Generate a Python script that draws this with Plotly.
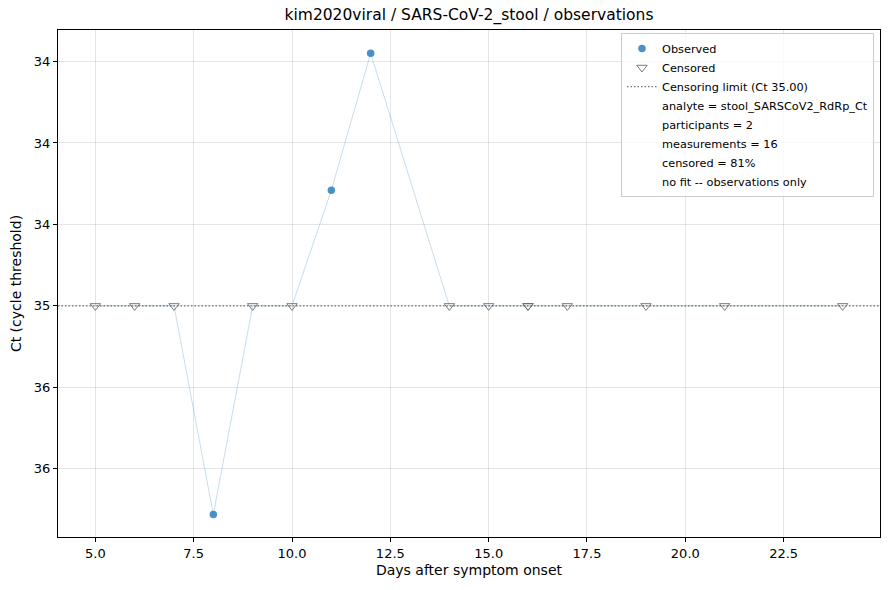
import plotly.graph_objects as go

# observations for kim2020viral / SARS-CoV-2_stool
days = [5, 6, 7, 8, 9, 10, 11, 12, 14, 15, 16, 16, 17, 19, 21, 24]
ct = [35.0, 35.0, 35.0, 36.28, 35.0, 35.0, 34.29, 33.45, 35.0, 35.0, 35.0, 35.0, 35.0, 35.0, 35.0, 35.0]
censored = [1, 1, 1, 0, 1, 1, 0, 0, 1, 1, 1, 1, 1, 1, 1, 1]
participant = ["P1"] * 11 + ["P2"] + ["P1"] * 4

censor_limit = 35.0
y_tickvals = [33.5, 34.0, 34.5, 35.0, 35.5, 36.0]
y_ticktext = ["34", "34", "34", "35", "36", "36"]
x_tickvals = [5.0, 7.5, 10.0, 12.5, 15.0, 17.5, 20.0, 22.5]
x_ticktext = ["5.0", "7.5", "10.0", "12.5", "15.0", "17.5", "20.0", "22.5"]

info_lines = [
    "analyte = stool_SARSCoV2_RdRp_Ct",
    "participants = 2",
    "measurements = 16",
    "censored = 81%",
    "no fit -- observations only",
]

FONT = "DejaVu Sans"
fig = go.Figure()

# per-participant trajectories
for p in sorted(set(participant)):
    px_ = [d for d, q in zip(days, participant) if q == p]
    py_ = [c for c, q in zip(ct, participant) if q == p]
    fig.add_trace(go.Scatter(x=px_, y=py_, mode="lines",
                             line=dict(color="rgba(31,119,180,0.25)", width=1),
                             showlegend=False, hoverinfo="skip"))

# censoring limit
fig.add_trace(go.Scatter(x=[4.05, 24.95], y=[censor_limit, censor_limit], mode="lines",
                         line=dict(color="rgba(90,90,90,0.85)", width=1.2, dash="1.5px,2px"),
                         name="Censoring limit (Ct %.2f)" % censor_limit, legendrank=3))

obs_x = [d for d, c in zip(days, censored) if not c]
obs_y = [v for v, c in zip(ct, censored) if not c]
cen_x = [d for d, c in zip(days, censored) if c]
cen_y = [v for v, c in zip(ct, censored) if c]

fig.add_trace(go.Scatter(x=obs_x, y=obs_y, mode="markers", name="Observed",
                         marker=dict(color="rgba(31,119,180,0.8)", size=7.5,
                                     line=dict(width=0)), legendrank=1))
fig.add_trace(go.Scatter(x=cen_x, y=cen_y, mode="markers", name="Censored",
                         marker=dict(symbol="triangle-down-open", color="rgba(100,100,100,0.85)",
                                     size=9, line=dict(width=1)), legendrank=2))

for i, t in enumerate(info_lines):
    fig.add_trace(go.Scatter(x=[None], y=[None], mode="lines", line=dict(width=0, color="white"),
                             name=t, legendrank=4 + i))

fig.update_layout(
    width=890, height=590,
    margin=dict(l=58, r=10, t=30, b=53, autoexpand=False),
    paper_bgcolor="white", plot_bgcolor="white",
    font=dict(family=FONT, size=13, color="black"),
    title=dict(text="kim2020viral / SARS-CoV-2_stool / observations", x=0.5, xref="paper",
               xanchor="center", y=1 - 15 / 590, yanchor="middle", yref="container",
               font=dict(size=15.5)),
    legend=dict(x=0.9927, y=0.994, xanchor="right", yanchor="top",
                bgcolor="rgba(255,255,255,0.8)", bordercolor="#cccccc", borderwidth=1,
                font=dict(size=11.3), tracegroupgap=0, itemwidth=30),
    showlegend=True,
)
fig.update_xaxes(range=[4.05, 24.95], tickvals=x_tickvals, ticktext=x_ticktext,
                 showline=True, linecolor="black", linewidth=1, mirror=True,
                 ticks="outside", ticklen=4, tickcolor="black", tickfont=dict(size=13),
                 showgrid=True, gridcolor="rgba(0,0,0,0.1)", zeroline=False, automargin=False,
                 title=dict(text="Days after symptom onset", standoff=5, font=dict(size=14)))
fig.update_yaxes(range=[36.418, 33.307], tickvals=y_tickvals, ticktext=y_ticktext,
                 showline=True, linecolor="black", linewidth=1, mirror=True,
                 ticks="outside", ticklen=4, tickcolor="black", tickfont=dict(size=13),
                 showgrid=True, gridcolor="rgba(0,0,0,0.1)", zeroline=False, automargin=False,
                 title=dict(text="Ct (cycle threshold)", standoff=8, font=dict(size=14)))

# drop the default page margin so the figure sits at the window origin
fig.write_html("out.html", config={"displayModeBar": False},
               post_script="document.body.style.margin='0';")
